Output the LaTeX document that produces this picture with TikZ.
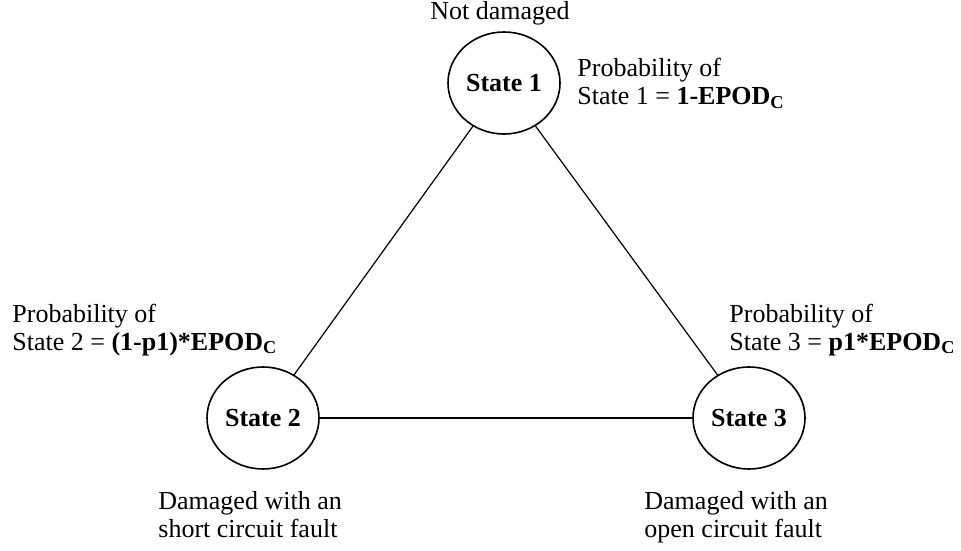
\documentclass[tikz,border=0pt]{standalone}
\usepackage{fontspec}
\setmainfont{Liberation Serif}
\usetikzlibrary{shapes.geometric}
\newcommand{\txtsize}{\fontsize{13}{14}\selectfont}

\begin{document}
\begin{tikzpicture}[
    x=0.5pt, y=-0.5pt,
    state/.style={ellipse, draw, line width=0.8pt, minimum width=56pt, minimum height=51pt, inner sep=0pt, font=\txtsize\bfseries},
    note/.style={align=left, inner sep=0pt, anchor=base west, font=\txtsize},
    link/.style={line width=0.6pt},
]
    \useasboundingbox (0,0) rectangle (961,550);

    \node[state] (s1) at (504,83) {State 1};
    \node[state] (s2) at (263,418) {State 2};
    \node[state] (s3) at (749,418) {State 3};

    \draw[link] (s1) -- (s2);
    \draw[link] (s1) -- (s3);
    \draw[link] (s2) -- (s3);

    % labels round the states (base = last line)
    \node[note, anchor=base] (nd) at (500,20) {Not damaged};
    \node[note] (p1) at (577,105) {Probability of\\State 1 = \textbf{1-EPOD\textsubscript{C}}};
    \node[note] (p2) at (12,350) {Probability of\\State 2 = \textbf{(1-p1)*EPOD\textsubscript{C}}};
    \node[note] (p3) at (729,350) {Probability of\\State 3 = \textbf{p1*EPOD\textsubscript{C}}};
    \node[note] (d2) at (158,537) {Damaged with an\\short circuit fault};
    \node[note] (d3) at (644,537) {Damaged with an\\open circuit fault};
\end{tikzpicture}
\end{document}
